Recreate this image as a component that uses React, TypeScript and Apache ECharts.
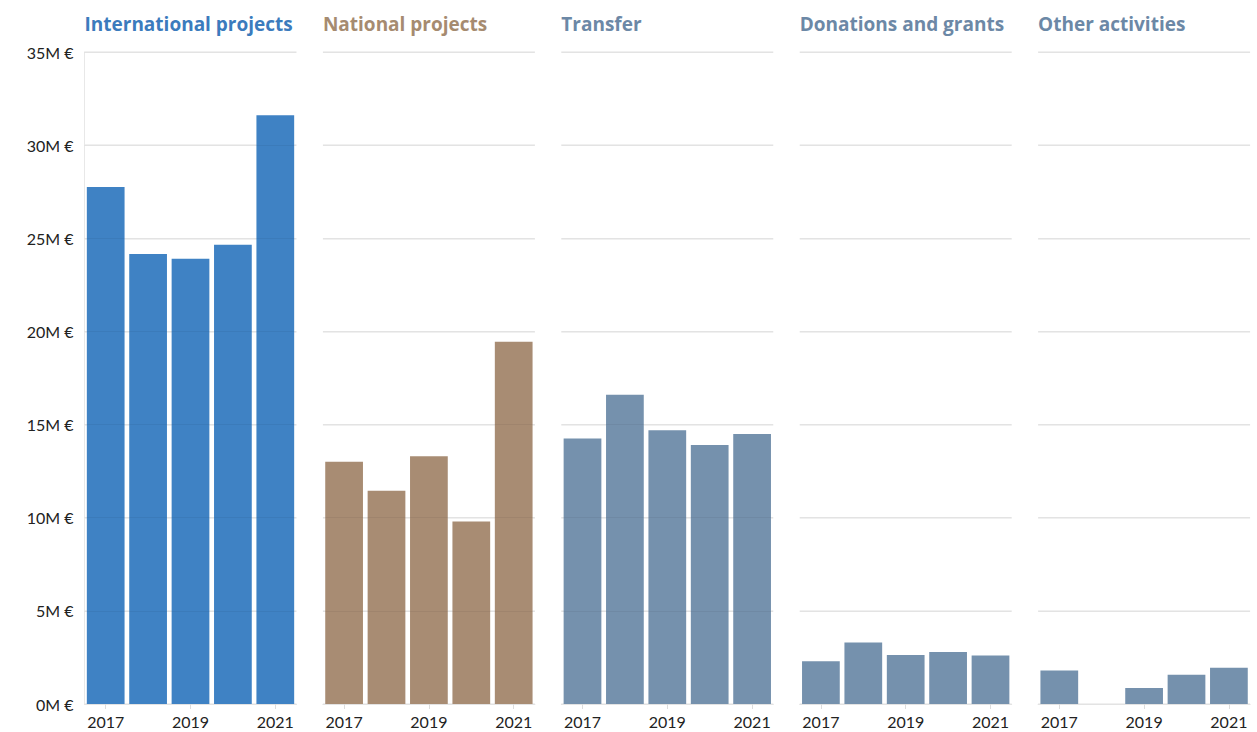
import React, { useEffect, useRef } from "react";
import * as echarts from "echarts";

const years = ["2017", "2018", "2019", "2020", "2021"];
const panelTitles = ["International projects", "National projects", "Transfer", "Donations and grants", "Other activities"];
const international = [27.75, 24.15, 23.9, 24.65, 31.6];
const national = [13.0, 11.45, 13.3, 9.8, 19.45];
const transfer = [14.25, 16.6, 14.7, 13.9, 14.5];
const donations = [2.3, 3.3, 2.63, 2.79, 2.6];
const other = [1.8, 0, 0.86, 1.57, 1.95];
const yMax = 35;
const yStep = 5;

const seriesData = [international, national, transfer, donations, other];
const barColors = ["#3f82c4", "#a88c73", "#7591ad", "#7591ad", "#7591ad"];
const titleColors = ["#3b7bbd", "#a68b70", "#6c88a6", "#6c88a6", "#6c88a6"];

export default function App() {
  const ref = useRef<HTMLDivElement>(null);
  useEffect(() => {
    if (!ref.current) return;
    const chart = echarts.init(ref.current, undefined, { renderer: "svg" });
    const left0 = 84.5;
    const pitch = 238.4;
    const width = 212;
    const font = "Lato, 'Open Sans', sans-serif";
    const grids = seriesData.map((_, i) => ({
      left: left0 + i * pitch,
      width,
      top: 52,
      height: 652,
      containLabel: false,
    }));
    const xAxes = seriesData.map((_, i) => ({
      type: "category",
      gridIndex: i,
      data: years,
      axisLine: { show: true, lineStyle: { color: "#e3e3e3", width: 1 } },
      axisTick: { show: true, alignWithLabel: true, length: 5, lineStyle: { color: "#dddddd" } },
      axisLabel: {
        interval: 1,
        color: "#222",
        fontSize: 16,
        fontFamily: font,
        margin: 9,
      },
    }));
    const yAxes = seriesData.map((_, i) => ({
      type: "value",
      gridIndex: i,
      min: 0,
      max: yMax,
      interval: yStep,
      axisLine: { show: i === 0, lineStyle: { color: "#e8e8e8", width: 1 } },
      axisTick: { show: false },
      splitLine: { show: true, lineStyle: { color: "#ebebeb", width: 1.5 } },
      axisLabel: {
        show: i === 0,
        color: "#222",
        fontSize: 16,
        fontFamily: font,
        margin: 11,
        formatter: (v: number) => `${v}M €`,
      },
    }));
    const series = seriesData.map((d, i) => ({
      type: "bar",
      xAxisIndex: i,
      yAxisIndex: i,
      data: d,
      barCategoryGap: "11%",
      itemStyle: { color: barColors[i] },
      markLine: {
        silent: true,
        symbol: "none",
        label: { show: false },
        lineStyle: { color: "rgba(0,0,0,0.05)", type: "solid", width: 1 },
        data: Array.from({ length: yMax / yStep }, (_, k) => ({ yAxis: (k + 1) * yStep })),
      },
    }));
    const titles = panelTitles.map((t, i) => ({
      text: t,
      left: left0 + i * pitch - 5,
      top: 9,
      padding: [5, 5, 5, 5],
      textStyle: { color: titleColors[i], fontSize: 19, fontWeight: "bold", fontFamily: "'Open Sans', Lato, sans-serif" },
    }));
    chart.setOption({
      animation: false,
      backgroundColor: "#ffffff",
      title: titles,
      grid: grids,
      xAxis: xAxes,
      yAxis: yAxes,
      series,
    });
    return () => chart.dispose();
  }, []);
  return (
    <div
      ref={ref}
      style={{ position: "absolute", left: 0, top: 0, width: 1257, height: 732 }}
    />
  );
}
